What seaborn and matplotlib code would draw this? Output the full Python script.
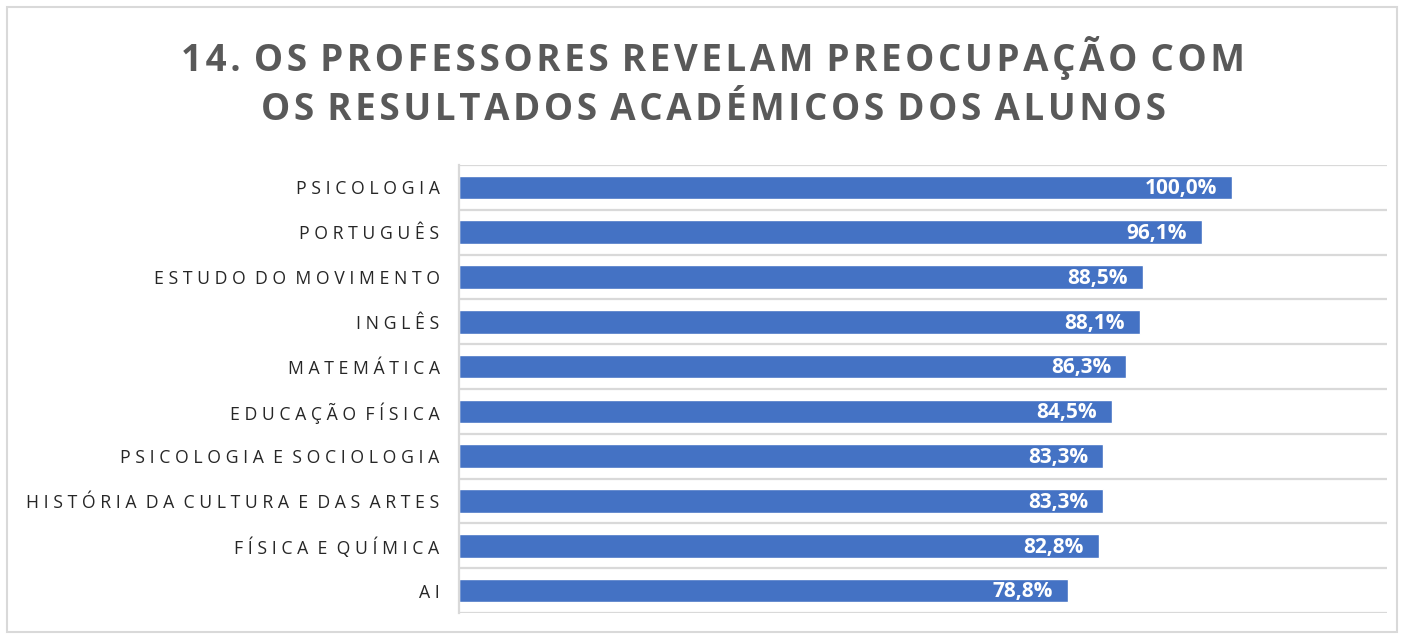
import numpy as np
import pandas as pd
import matplotlib
matplotlib.use('Agg')
import matplotlib.pyplot as plt
from matplotlib.patches import Rectangle
import seaborn as sns

subjects = ['PSICOLOGIA', 'PORTUGUÊS', 'ESTUDO DO MOVIMENTO', 'INGLÊS', 'MATEMÁTICA',
            'EDUCAÇÃO FÍSICA', 'PSICOLOGIA E SOCIOLOGIA', 'HISTÓRIA DA CULTURA E DAS ARTES',
            'FÍSICA E QUÍMICA', 'AI']
percent = [100.0, 96.1, 88.5, 88.1, 86.3, 84.5, 83.3, 83.3, 82.8, 78.8]

title_lines = ['14. OS PROFESSORES REVELAM PREOCUPAÇÃO COM',
               'OS RESULTADOS ACADÉMICOS DOS ALUNOS']


def spaced(s, sep, gap):
    # fake letter spacing
    return gap.join(sep.join(w) for w in s.split(' '))


df = pd.DataFrame({'subject': [spaced(s, '\u2009\u200a', '  ') for s in subjects],
                   'percent': percent})

sns.set_theme(style='white')
plt.rcParams['font.family'] = ['Open Sans', 'DejaVu Sans']

fig = plt.figure(figsize=(14.04, 6.37), dpi=100)
ax = fig.add_axes([0.3269, 0.0377, 0.9879 - 0.3269, 0.741 - 0.0377])

sns.barplot(data=df, x='percent', y='subject', color='#4472C4', saturation=1,
            width=0.53, ax=ax)

ax.set_xlim(0, 120)
ax.set_xlabel('')
ax.set_ylabel('')
ax.set_xticks([])
ax.tick_params(axis='y', length=0, pad=14, labelsize=12.7, labelcolor='#262626')

# category separators
ax.set_yticks(np.arange(-0.5, len(subjects)), minor=True)
ax.tick_params(axis='y', which='minor', length=0)
ax.grid(which='minor', axis='y', color='#d9d9d9', linewidth=1.6)
ax.set_ylim(len(subjects) - 0.5, -0.5)

for side in ['top', 'right', 'bottom']:
    ax.spines[side].set_visible(False)
ax.spines['left'].set_color('#d9d9d9')
ax.spines['left'].set_linewidth(1.6)

for i, v in enumerate(percent):
    ax.annotate(f'{v:.1f}%'.replace('.', ','), xy=(v, i), xytext=(-11, -1),
                textcoords='offset points', ha='right', va='center',
                color='white', fontsize=15, fontweight='bold')

title = '\n'.join(spaced(t, '\u200a', ' \u200a') for t in title_lines)
fig.text(0.508, 0.87, title, ha='center', va='center', fontsize=26.5,
         fontweight='bold', color='#595959', linespacing=1.37)

fig.patches.append(Rectangle((7 / 1404, 5 / 637), 1390 / 1404, 625 / 637,
                             transform=fig.transFigure, fill=False,
                             edgecolor='#d9d9d9', linewidth=1.5))

fig.savefig('out.png', dpi=100)
